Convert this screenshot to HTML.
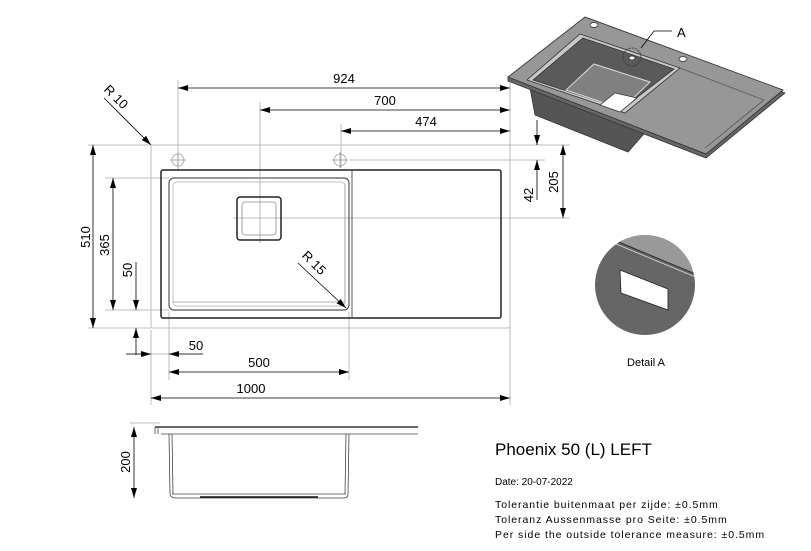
<!DOCTYPE html>
<html><head><meta charset="utf-8"><style>
html,body{margin:0;padding:0;background:#fff;}
svg{display:block;font-family:"Liberation Sans",Arial,sans-serif;}
</style></head><body>
<svg width="811" height="551" viewBox="0 0 811 551" xmlns="http://www.w3.org/2000/svg">
<defs>
<marker id="a" viewBox="0 0 10 6" refX="10" refY="3" markerWidth="10" markerHeight="6" orient="auto-start-reverse" markerUnits="userSpaceOnUse"><path d="M0,0L10,3L0,6z" fill="#000"/></marker>
</defs>
<g fill="none" stroke="#aaa" stroke-width="0.8">
<line x1="178" y1="80" x2="178" y2="170"/>
<line x1="260" y1="102" x2="260" y2="243"/>
<line x1="341" y1="124" x2="341" y2="168"/>
<line x1="510" y1="80" x2="510" y2="405"/>
<line x1="233" y1="218" x2="570" y2="218"/>
<line x1="350" y1="160" x2="545" y2="160"/>
<line x1="510" y1="145" x2="570" y2="145"/>
<line x1="88" y1="145" x2="151" y2="145"/>
<line x1="88" y1="328" x2="151" y2="328"/>
<line x1="105" y1="178" x2="169" y2="178"/>
<line x1="105" y1="310" x2="169" y2="310"/>
<line x1="151" y1="330" x2="151" y2="405"/>
<line x1="169" y1="312" x2="169" y2="380"/>
<line x1="349" y1="312" x2="349" y2="380"/>
<line x1="126" y1="354" x2="203" y2="354"/>
<line x1="130" y1="423" x2="160" y2="423"/>
</g>
<rect x="151" y="145" width="359" height="183" rx="2" fill="none" stroke="#bbb" stroke-width="1"/>
<rect x="161" y="170" width="340" height="148" rx="2" fill="none" stroke="#222" stroke-width="1.5"/>
<line x1="352" y1="170" x2="352" y2="318" stroke="#555" stroke-width="1"/>
<rect x="169" y="178" width="180" height="132" rx="5" fill="none" stroke="#555" stroke-width="1.2"/>
<rect x="173" y="182" width="172" height="124" rx="4" fill="none" stroke="#aaa" stroke-width="0.7"/>
<line x1="173" y1="302" x2="345" y2="302" stroke="#999" stroke-width="0.7"/>
<line x1="345" y1="184" x2="345" y2="302" stroke="#999" stroke-width="0.7"/>
<rect x="237" y="197" width="44" height="43" rx="3" fill="none" stroke="#222" stroke-width="1.5"/>
<rect x="242" y="202" width="34" height="33" rx="3" fill="none" stroke="#888" stroke-width="0.8"/>
<line x1="250" y1="178" x2="270" y2="178" stroke="#888" stroke-width="1.5"/>
<g fill="none" stroke="#999" stroke-width="0.8">
<circle cx="178" cy="160" r="6"/><line x1="170" y1="160" x2="186" y2="160"/><line x1="178" y1="152" x2="178" y2="168"/>
<circle cx="340" cy="160" r="6"/><line x1="332" y1="160" x2="348" y2="160"/><line x1="340" y1="152" x2="340" y2="168"/>
</g>
<g stroke="#000" stroke-width="0.8" fill="none">
<line x1="178" y1="88" x2="510" y2="88" marker-start="url(#a)" marker-end="url(#a)"/>
<line x1="260" y1="110" x2="510" y2="110" marker-start="url(#a)" marker-end="url(#a)"/>
<line x1="341" y1="131" x2="510" y2="131" marker-start="url(#a)" marker-end="url(#a)"/>
<line x1="93" y1="145" x2="93" y2="328" marker-start="url(#a)" marker-end="url(#a)"/>
<line x1="113" y1="178" x2="113" y2="310" marker-start="url(#a)" marker-end="url(#a)"/>
<line x1="136" y1="262" x2="136" y2="310" marker-end="url(#a)"/>
<line x1="136" y1="355" x2="136" y2="328" marker-end="url(#a)"/>
<line x1="126" y1="354" x2="151" y2="354" marker-end="url(#a)"/>
<line x1="203" y1="354" x2="169" y2="354" marker-end="url(#a)"/>
<line x1="169" y1="372" x2="349" y2="372" marker-start="url(#a)" marker-end="url(#a)"/>
<line x1="151" y1="398" x2="510" y2="398" marker-start="url(#a)" marker-end="url(#a)"/>
<line x1="537" y1="120" x2="537" y2="145" marker-end="url(#a)"/>
<line x1="537" y1="200" x2="537" y2="160" marker-end="url(#a)"/>
<line x1="563" y1="145" x2="563" y2="218" marker-start="url(#a)" marker-end="url(#a)"/>
<line x1="104" y1="98" x2="151" y2="145" marker-end="url(#a)"/>
<line x1="298" y1="263" x2="346" y2="308" marker-end="url(#a)"/>
<line x1="134" y1="427" x2="134" y2="498" marker-start="url(#a)" marker-end="url(#a)"/>
</g>
<g font-size="13" fill="#000" text-anchor="middle">
<text x="344" y="83">924</text>
<text x="385" y="105">700</text>
<text x="426" y="126">474</text>
<text x="196" y="350">50</text>
<text x="259" y="367">500</text>
<text x="251" y="393">1000</text>
<text transform="translate(90,237) rotate(-90)">510</text>
<text transform="translate(109,245) rotate(-90)">365</text>
<text transform="translate(132,270) rotate(-90)">50</text>
<text transform="translate(533,195) rotate(-90)">42</text>
<text transform="translate(558,182) rotate(-90)">205</text>
<text transform="translate(130,462) rotate(-90)">200</text>
<text transform="translate(113,100) rotate(45)">R 10</text>
<text transform="translate(311,266) rotate(45)">R 15</text>
</g>
<g stroke="#333" stroke-width="0.8">
<polygon points="530,88 650,127 628,152 535,115" fill="#555"/>
<polygon points="585,17 783,90 706,154 508,77 508,81 706,158 785,93" fill="#666"/>
<polygon points="585,17 783,90 706,154 508,77" fill="#979797"/>
<polygon points="580,34 680,68 625,113 527,80" fill="#c8c8c8"/>
<polygon points="583,38 674,69 622,109 533,80" fill="#5a5a5a"/>
<polygon points="594,64 650,82 622,109 566,90" fill="#808080" stroke="#ddd" stroke-width="1"/>
<polygon points="600,105 615,93 637,98 620,112" fill="#fff"/>
<line x1="680" y1="68" x2="764" y2="100" stroke="#555"/>
<line x1="764" y1="100" x2="705" y2="148" stroke="#555"/>
<ellipse cx="594" cy="25" rx="4" ry="2.5" fill="#fff"/>
<ellipse cx="683" cy="59" rx="4" ry="2.5" fill="#fff"/>
<ellipse cx="632" cy="58" rx="3" ry="2" fill="#fff"/>
<circle cx="632" cy="57" r="9" fill="none" stroke-dasharray="2,1"/>
<polyline points="641,48 654,31 672,31" fill="none" stroke="#000"/>
</g>
<text x="677" y="37" font-size="13">A</text>
<clipPath id="c"><circle cx="645" cy="285" r="50"/></clipPath>
<g clip-path="url(#c)">
<rect x="590" y="230" width="115" height="115" fill="#666"/>
<polygon points="590,230 705,230 705,278 616,240" fill="#999"/>
<line x1="616" y1="241" x2="705" y2="278" stroke="#333" stroke-width="1"/>
<line x1="616" y1="244" x2="705" y2="281" stroke="#ddd" stroke-width="0.8"/>
<polygon points="620,270 668,289 668,310 621,293" fill="#fff" stroke="#222" stroke-width="0.8"/>
</g>
<text x="646" y="366" font-size="11" text-anchor="middle">Detail A</text>
<g fill="none" stroke="#444" stroke-width="0.8">
<line x1="155" y1="427" x2="418" y2="427" stroke="#111" stroke-width="1.2"/>
<line x1="161" y1="434" x2="418" y2="434"/>
<line x1="155" y1="427" x2="155" y2="434"/>
<line x1="158" y1="427" x2="158" y2="434"/>
<path d="M169,434 L170,494 Q171,498 175,498 L344,498 Q348,498 348,494 L349,434"/>
<line x1="172" y1="434" x2="173" y2="494"/>
<line x1="346" y1="434" x2="345" y2="494"/>
<line x1="172" y1="494" x2="346" y2="494"/>
<line x1="200" y1="497" x2="318" y2="497" stroke="#111" stroke-width="1.5"/>
</g>
<text x="495" y="455" font-size="17">Phoenix 50 (L) LEFT</text>
<text x="495" y="485" font-size="10">Date: 20-07-2022</text>
<g font-size="10.5" letter-spacing="0.95">
<text x="495" y="508">Tolerantie buitenmaat per zijde: ±0.5mm</text>
<text x="495" y="523">Toleranz Aussenmasse pro Seite: ±0.5mm</text>
<text x="495" y="538">Per side the outside tolerance measure: ±0.5mm</text>
</g>
</svg>
</body></html>
